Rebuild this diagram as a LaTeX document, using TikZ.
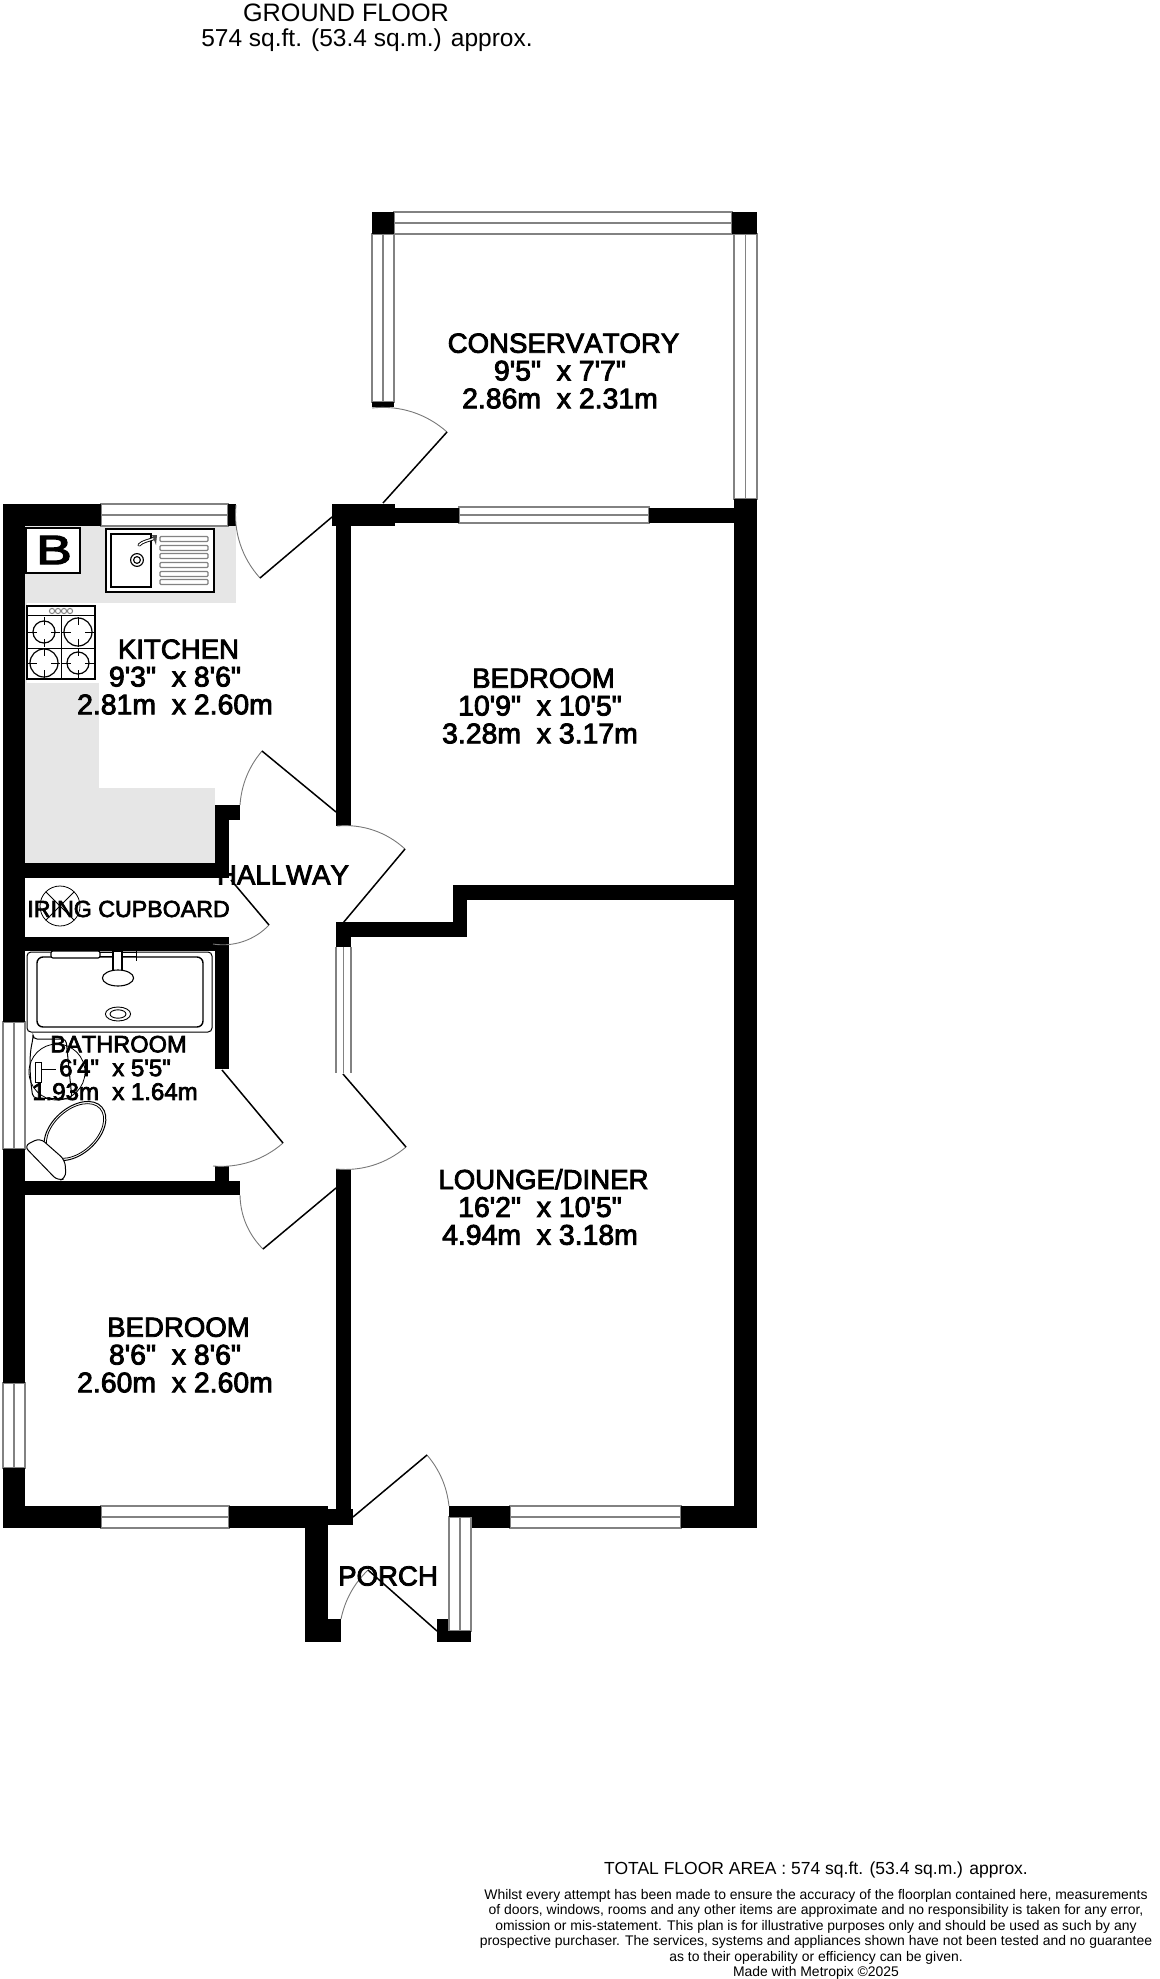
\documentclass[tikz,border=0pt]{standalone}
\usepackage{fontspec}
\setmainfont{Liberation Sans}
\newfontfamily\roomfont[FakeBold=3, Kerning=Off]{Liberation Sans}
\usetikzlibrary{positioning}
\definecolor{FloorWall}{RGB}{0, 0, 0}
\definecolor{FloorWorktop}{RGB}{230, 230, 230}
\definecolor{FloorWindow}{RGB}{130, 130, 130}
\definecolor{FloorSwing}{RGB}{120, 120, 120}
\newcommand{\roomtext}[3]{\kern3.5pt #1\\\dimsize #2\\\dimsize #3}

\begin{document}
\begin{tikzpicture}[
        x=0.5pt, y=-0.5pt,
        wall/.style={fill=FloorWall},
        worktop/.style={fill=FloorWorktop},
        pane/.style={draw=FloorWindow, fill=white, line width=0.6pt},
        leaf/.style={draw=black, line width=0.75pt},
        swing/.style={draw=FloorSwing, line width=0.45pt},
        fitting/.style={draw=black, line width=0.55pt, fill=white},
        fineline/.style={draw=black, line width=0.4pt},
        room/.style={font=\def\dimsize{\fontsize{14.2}{13.9}\selectfont}\roomfont\fontsize{13.8}{13.9}\selectfont, align=center, inner sep=0pt},
        smallroom/.style={font=\def\dimsize{\fontsize{12}{11.9}\selectfont}\roomfont\fontsize{11.8}{11.9}\selectfont, align=center, inner sep=0pt},
        plain/.style={font=\fontsize{12.6}{13}\selectfont, align=center, inner sep=0pt}
    ]

    \useasboundingbox (0,0) rectangle (1160,1979);

    \fill[worktop] (25,526) rectangle (236,603);
    \fill[worktop] (25,603) rectangle (27,683);
    \fill[worktop] (25,683) rectangle (99,788);
    \fill[worktop] (25,788) rectangle (215,863);

    \foreach \xa/\ya/\xb/\yb in {394/212/732/234, 459/507/649/523, 101/504/228/526, 101/1506/229/1528, 510/1506/681/1528} {
        \draw[pane] (\xa,\ya) rectangle (\xb,\yb);
        \draw[pane] (\xa,{(\ya+\yb)/2}) -- (\xb,{(\ya+\yb)/2});
    }
    \foreach \xa/\ya/\xb/\yb in {372/234/394/402, 734/234/757/499, 3/1022/25/1149, 3/1383/25/1468, 449/1517/471/1631} {
        \draw[pane] (\xa,\ya) rectangle (\xb,\yb);
        \draw[pane] ({(\xa+\xb)/2},\ya) -- ({(\xa+\xb)/2},\yb);
    }
    \foreach \xa in {336, 343.5, 351} \draw[pane] (\xa,947) -- (\xa,1073);

    \foreach \xa/\ya/\xb/\yb in {3/504/25/1022, 3/1149/25/1383, 3/1468/25/1528, 3/504/101/526, 228/504/236/526,
        332/504/395/526, 395/508/459/523, 649/508/734/523, 336/526/351/826, 25/863/229/878, 215/805/229/878,
        215/805/240/820, 25/937/229/951, 215/937/229/1069, 215/1166/229/1195, 25/1181/240/1195, 336/1169/351/1510,
        327/1509/353/1525, 3/1506/101/1528, 229/1506/327/1528, 305/1506/328/1642, 305/1619/341/1642, 449/1506/510/1517,
        472/1517/510/1528, 681/1506/757/1528, 734/499/757/1528, 336/922/467/937, 453/885/467/937, 453/885/734/900,
        336/922/351/947, 437/1619/448/1642, 437/1631/471/1642, 372/212/394/234, 732/212/757/234, 372/402/394/407} {
        \fill[wall] (\xa,\ya) rectangle (\xb,\yb);
    }

    \foreach \jx/\jy/\tx/\ty/\hx/\hy/\b in {372/408/447/432/383/503/24, 236/505/260/578/332/517/-24, 240/805/262/751/336/812/18,
        337/826/405/849/343/923/24, 213/944/269/925/231/880/-28, 213/1166/283/1143/222/1070/-23, 336/1169/406/1147/343/1074/-23,
        240/1195/263/1249/336/1188/-22, 449/1506/427/1455/353/1517/-17, 341/1619/368/1570/437/1631/17} {
        \draw[swing] (\jx,\jy) to[bend left=\b, looseness=0.9] (\tx,\ty);
        \draw[leaf] (\tx,\ty) -- (\hx,\hy);
    }

    \draw[fitting] (26,528) rectangle (80,573);
    \node[font=\roomfont\fontsize{20.5}{21}\selectfont, xscale=1.3, inner sep=0pt] (boiler) at (54,550) {B};

    \draw[fitting, line width=0.8pt] (106,529) rectangle (214,592);
    \draw[fitting] (111,534) rectangle (151,587);
    \draw[fitting] (137,560) circle (3.2pt);
    \draw[fitting] (137,560) circle (1.7pt);
    \foreach \y in {539, 548, 556, 565, 574, 582} {
        \draw[fineline, draw=FloorWindow, line width=0.7pt, rounded corners=0.5pt] (160,\y-2.5) rectangle (208,\y+2.5);
    }
    \draw[draw=black, line width=1.6pt, line cap=round] (139,545) .. controls (143,541) and (148,541) .. (155,538);
    \draw[draw=white, line width=0.7pt, line cap=round] (139,545) .. controls (143,541) and (148,541) .. (155,538);
    \fill[black!70] (152,535) -- (157,535) -- (156,545) -- cycle;

    \draw[fitting] (27,606) rectangle (95,679);
    \draw[fineline] (27,615) -- (95,615);
    \draw[fineline] (61,615) -- (61,679);
    \draw[fineline] (27,648) -- (95,648);
    \foreach \x in {52, 58, 64, 70} \draw[fineline, draw=FloorWindow, line width=0.5pt] (\x,611) circle (1.3pt);
    \foreach \x/\y/\r in {44/632/5.5, 78/632/7, 44/663/7, 78/663/5.5} {
        \draw[fineline, line width=0.6pt] (\x,\y) circle (\r pt);
        \draw[fineline] (\x-16,\y) -- (\x-7,\y);
        \draw[fineline] (\x+7,\y) -- (\x+16,\y);
        \draw[fineline] (\x,\y-15) -- (\x,\y-7);
        \draw[fineline] (\x,\y+7) -- (\x,\y+15);
    }

    \draw[fineline] (60,906) circle (10pt);
    \draw[fineline] (46,892) -- (74,920);
    \draw[fineline] (74,892) -- (46,920);

    \draw[fitting, line width=0.5pt, rounded corners=2pt] (27,952) rectangle (212,1032);
    \draw[fitting, line width=0.7pt, rounded corners=3pt] (37,957) rectangle (203,1027);
    \draw[fitting, rounded corners=1pt] (51,951) rectangle (100,958);
    \draw[fineline] (100,952) -- (136,952);
    \draw[fineline] (100,956) -- (136,956);
    \draw[fineline] (136,951) -- (136,961);
    \draw[fitting] (113,951) rectangle (122,972);
    \draw[fitting] (118,978) ellipse (7.8pt and 4pt);
    \draw[fitting, line width=0.45pt] (118,1014) ellipse (6.3pt and 3.5pt);
    \draw[fitting, line width=0.45pt] (118,1014) ellipse (4pt and 2.1pt);

    \draw[fitting, line width=0.5pt, rounded corners=2pt] (33,1039) -- (66,1039) -- (72,1099) -- (33,1098)
        .. controls (31,1085) and (28,1060) .. cycle;
    \draw[fineline] (57,1072) circle (14pt);
    \draw[fitting, line width=0.3pt] (35,1062) rectangle (41,1082);
    \draw[fineline] (41,1069) -- (56,1069);

    \draw[fitting, line width=0.5pt] (75,1131) ellipse [x radius=18pt, y radius=11.5pt, rotate=42];
    \draw[fineline] (75,1131) ellipse [x radius=16.8pt, y radius=10.5pt, rotate=42];
    \draw[fitting, line width=0.5pt, rounded corners=3pt] (24,1146) -- (40,1138) -- (65,1160) -- (66,1178) -- (58,1181) -- cycle;

    \node[room] (conservatory) at (560,371) {\roomtext{CONSERVATORY}{9'5"\ \ x 7'7"}{2.86m\ \ x 2.31m}};
    \node[room] (kitchen) at (175,677) {\roomtext{KITCHEN}{9'3"\ \ x 8'6"}{2.81m\ \ x 2.60m}};
    \node[room] (bedroomrear) at (540,706) {\roomtext{BEDROOM}{10'9"\ \ x 10'5"}{3.28m\ \ x 3.17m}};
    \node[room] (hallway) at (283,875) {HALLWAY};
    \node[room, font=\roomfont\fontsize{11.6}{13}\selectfont, anchor=west] (cupboard) at (27,909) {IRING CUPBOARD};
    \node[smallroom] (bathroom) at (115,1068) {\roomtext{BATHROOM}{6'4"\ \ x 5'5"}{1.93m\ \ x 1.64m}};
    \node[room] (lounge) at (540,1207) {\roomtext{LOUNGE/DINER}{16'2"\ \ x 10'5"}{4.94m\ \ x 3.18m}};
    \node[room] (bedroomfront) at (175,1355) {\roomtext{BEDROOM}{8'6"\ \ x 8'6"}{2.60m\ \ x 2.60m}};
    \node[room] (porch) at (388,1576) {PORCH};

    \node[plain] (floorname) at (346,13) {GROUND FLOOR};
    \node[plain, font=\fontsize{12.25}{13}\selectfont] (floorarea) at (367,40) {574 sq.ft. (53.4 sq.m.) approx.};

    \node[font=\fontsize{8.75}{9}\selectfont, inner sep=0pt] (totalarea) at (816,1870) {TOTAL FLOOR AREA : 574 sq.ft. (53.4 sq.m.) approx.};
    \node[font=\fontsize{6.97}{7.72}\selectfont, align=center, inner sep=0pt, anchor=north] (disclaimer) at (816,1889) {Whilst every attempt has been made to ensure the accuracy of the floorplan contained here, measurements\\
        of doors, windows, rooms and any other items are approximate and no responsibility is taken for any error,\\
        omission or mis-statement. This plan is for illustrative purposes only and should be used as such by any\\
        prospective purchaser. The services, systems and appliances shown have not been tested and no guarantee\\
        as to their operability or efficiency can be given.\\
        Made with Metropix \textcopyright 2025};

\end{tikzpicture}
\end{document}
